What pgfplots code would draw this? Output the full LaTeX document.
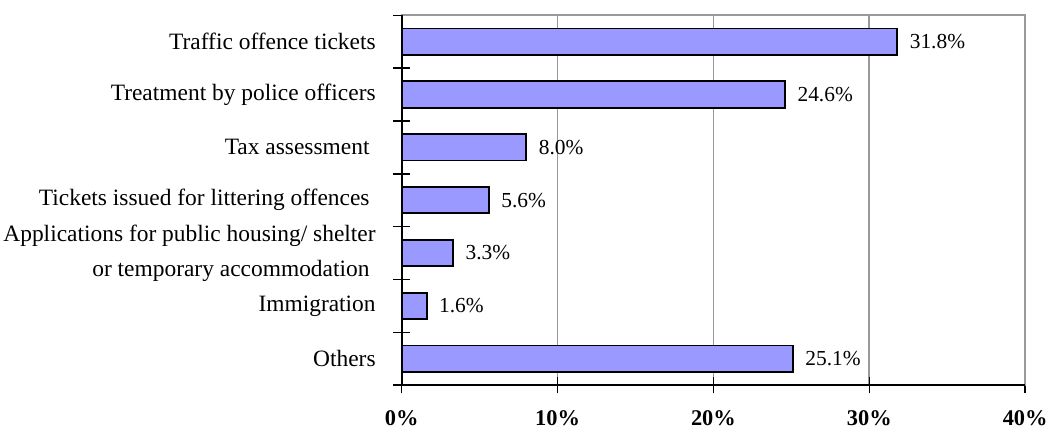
\documentclass[border=0pt]{standalone}
\usepackage{pgfplots}
\pgfplotsset{compat=1.18}
\usepackage{fontspec}
\setmainfont[Ligatures=NoCommon]{Liberation Serif}
\definecolor{barfill}{HTML}{9999FF}
\definecolor{gridgray}{HTML}{999999}

\begin{document}
\begin{tikzpicture}
\begin{axis}[
  scale only axis,
  width=612pt, height=363pt,
  xbar, bar width=0.5,
  xmin=0, xmax=40,
  ymin=-0.5, ymax=6.5,
  y dir=reverse,
  /pgf/number format/assume math mode=true,
  xtick={0,10,20,30,40},
  xticklabels={0\%,10\%,20\%,30\%,40\%},
  xticklabel style={font=\fontsize{22}{26}\selectfont\bfseries, yshift=-13pt},
  ytick={0,...,6},
  yticklabels={
    Traffic offence tickets,
    Treatment by police officers,
    Tax assessment\hspace*{6pt},
    Tickets issued for littering offences\hspace*{6pt},
    {Applications for public housing/ shelter\\or temporary accommodation\hspace*{6pt}},
    Immigration,
    Others},
  yticklabel style={font=\fontsize{23}{34}\selectfont, align=right, xshift=-14pt},
  minor ytick={-0.5,0.5,...,6.5},
  major y tick style={draw=none},
  tick align=center,
  tick pos=left,
  major tick length=16pt,
  minor tick length=17pt,
  tick style={black, line width=1.5pt},
  xmajorgrids,
  major x grid style={gridgray, line width=1.8pt},
  axis line style={gridgray, line width=1.8pt},
  point meta=x,
  nodes near coords={\pgfmathprintnumber[fixed,fixed zerofill,precision=1]{\pgfplotspointmeta}\%},
  nodes near coords style={font=\fontsize{21}{24}\selectfont, anchor=west, xshift=8pt},
]
\addplot[fill=barfill, draw=black, line width=1.8pt] coordinates {
  (31.8,0) (24.6,1) (8.0,2) (5.6,3) (3.3,4) (1.6,5) (25.1,6)
};
\end{axis}
\draw[black, line width=2pt] (current axis.north west) -- (current axis.south west) -- (current axis.south east);
\path ([yshift=15pt]current axis.north);
\end{tikzpicture}
\end{document}
